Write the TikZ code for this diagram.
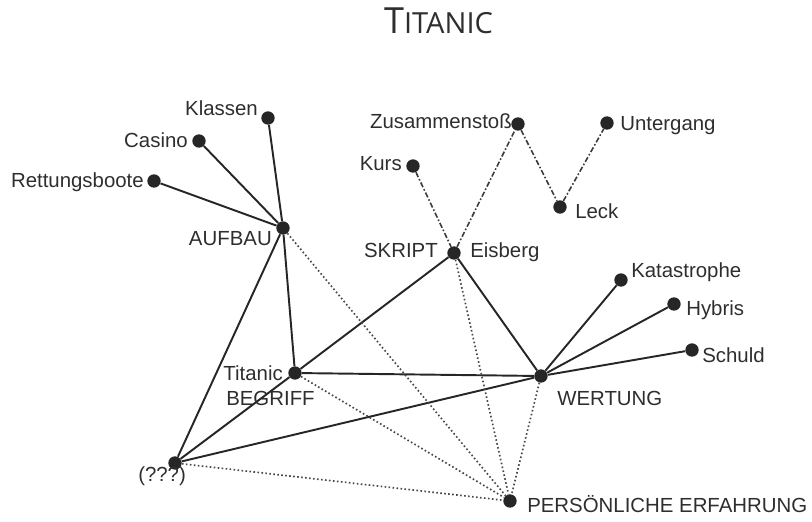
\documentclass[tikz,border=0pt]{standalone}
\usepackage{fontspec}
\setmainfont{Liberation Sans}
\newfontfamily\titlefamily{Open Sans}
\definecolor{ink}{HTML}{262626}
\definecolor{txt}{HTML}{2E2E2E}
\begin{document}
\begin{tikzpicture}[x=0.75pt,y=-0.75pt,
  dot/.style={circle,fill=ink,inner sep=0pt,minimum size=10pt},
  lbl/.style={font=\fontsize{15.3}{16}\selectfont,text=txt,inner sep=0pt},
  solidlink/.style={draw=ink,line width=1.45pt},
  dotlink/.style={draw=ink!85,line width=1.25pt,dash pattern=on 1.2pt off 1.8pt},
  dashdotlink/.style={draw=ink!90,line width=1.2pt,dash pattern=on 4pt off 1.6pt on 1.2pt off 1.6pt}]
\useasboundingbox (0,0) rectangle (812,521);

% title
\node[anchor=base,text=txt,inner sep=0pt,font=\titlefamily] (title) at (438.5,33)
  {\fontsize{27}{27}\selectfont T\fontsize{21.8}{22}\selectfont ITANIC};

% dots
\node[dot] (klassen) at (268,118) {};
\node[dot] (casino) at (199,141) {};
\node[dot] (rettung) at (154,181) {};
\node[dot] (aufbau) at (283,228) {};
\node[dot] (kurs) at (413,166) {};
\node[dot] (zusammen) at (518,124) {};
\node[dot] (untergang) at (607,123) {};
\node[dot] (leck) at (560,207) {};
\node[dot] (eisberg) at (454,253) {};
\node[dot] (katastrophe) at (621,280) {};
\node[dot] (hybris) at (674,304) {};
\node[dot] (schuld) at (692,350) {};
\node[dot] (wertung) at (541,376) {};
\node[dot] (titanic) at (295,373) {};
\node[dot] (unknown) at (175,463) {};
\node[dot] (erfahrung) at (510,501) {};

% solid links
\foreach \a/\b in {klassen/aufbau,casino/aufbau,rettung/aufbau,aufbau/titanic,
  aufbau/unknown,titanic/eisberg,titanic/wertung,titanic/unknown,eisberg/wertung,
  unknown/wertung,wertung/katastrophe,wertung/hybris,wertung/schuld}
  \path[solidlink] (\a) -- (\b);

% dotted links to the personal experience
\foreach \a in {aufbau,titanic,eisberg,wertung,unknown}
  \path[dotlink] (\a) -- (erfahrung);

% dash-dotted chain of the plot
\foreach \a/\b in {kurs/eisberg,eisberg/zusammen,zusammen/leck,leck/untergang}
  \path[dashdotlink] (\a) -- (\b);

% labels
\node[lbl,anchor=base east] (lklassen) at (258,115) {Klassen};
\node[lbl,anchor=base east] (lcasino) at (188,147) {Casino};
\node[lbl,anchor=base east] (lrettung) at (144,187) {Rettungsboote};
\node[lbl,anchor=base east] (laufbau) at (272,245) {AUFBAU};
\node[lbl,anchor=base east] (lkurs) at (402,170) {Kurs};
\node[lbl,anchor=base east] (lzusammen) at (512,128) {Zusammenstoß};
\node[lbl,anchor=base west] (luntergang) at (620,130) {Untergang};
\node[lbl,anchor=base west] (lleck) at (575,218) {Leck};
\node[lbl,anchor=base east] (lskript) at (438,257) {SKRIPT};
\node[lbl,anchor=base west] (leisberg) at (470,257) {Eisberg};
\node[lbl,anchor=base west] (lkatastrophe) at (631,277) {Katastrophe};
\node[lbl,anchor=base west] (lhybris) at (686,315) {Hybris};
\node[lbl,anchor=base west] (lschuld) at (702,362) {Schuld};
\node[lbl,anchor=base west] (lwertung) at (557,405) {WERTUNG};
\node[lbl,anchor=base east] (ltitanic) at (283,380) {Titanic};
\node[lbl,anchor=base west] (lbegriff) at (226,405) {BEGRIFF};
\node[lbl,anchor=base west] (lunknown) at (138,481) {(???)};
\node[lbl,anchor=base west] (lerfahrung) at (527,512) {PERSÖNLICHE ERFAHRUNG};
\end{tikzpicture}
\end{document}
